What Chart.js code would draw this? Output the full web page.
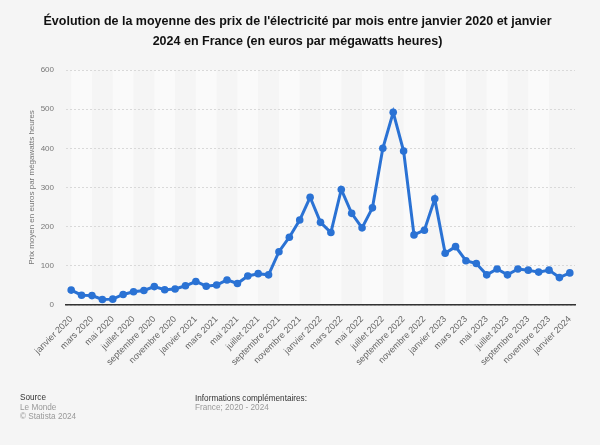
<!DOCTYPE html>
<html lang="fr">
<head>
<meta charset="utf-8">
<script src="https://cdn.jsdelivr.net/npm/chart.js@4/dist/chart.umd.min.js"></script>
<style>
  html, body { margin: 0; padding: 0; background: #f5f5f5; }
  #wrap { position: relative; width: 600px; height: 445px; overflow: hidden; }
  canvas { position: absolute; left: 0; top: 0; }
  .ft { position: absolute; font-family: 'Liberation Sans', Arial, sans-serif; font-size: 8.2px; line-height: 10px; white-space: nowrap; }
  .h { color: #333; }
  .g { color: #999; }
</style>
</head>
<body>
<div id="wrap">
  <canvas id="c" width="600" height="445"></canvas>
  <div class="ft h" style="left:20px; top:393px;">Source</div>
  <div class="ft g" style="left:20px; top:403px;">Le Monde</div>
  <div class="ft g" style="left:20px; top:412px;">© Statista 2024</div>
  <div class="ft h" style="left:195px; top:394px;">Informations complémentaires:</div>
  <div class="ft g" style="left:195px; top:403px;">France; 2020 - 2024</div>
</div>
<script>
const titleLines = [
  "Évolution de la moyenne des prix de l'électricité par mois entre janvier 2020 et janvier",
  "2024 en France (en euros par mégawatts heures)"
];
const yAxisTitle = "Prix moyen en euros par mégawatts heures";
const months = [
  "janvier 2020","février 2020","mars 2020","avril 2020","mai 2020","juin 2020",
  "juillet 2020","août 2020","septembre 2020","octobre 2020","novembre 2020","décembre 2020",
  "janvier 2021","février 2021","mars 2021","avril 2021","mai 2021","juin 2021",
  "juillet 2021","août 2021","septembre 2021","octobre 2021","novembre 2021","décembre 2021",
  "janvier 2022","février 2022","mars 2022","avril 2022","mai 2022","juin 2022",
  "juillet 2022","août 2022","septembre 2022","octobre 2022","novembre 2022","décembre 2022",
  "janvier 2023","février 2023","mars 2023","avril 2023","mai 2023","juin 2023",
  "juillet 2023","août 2023","septembre 2023","octobre 2023","novembre 2023","décembre 2023",
  "janvier 2024"
];
const prices = [
  38, 25, 24, 14, 15, 27, 34, 37, 47, 39, 41, 49,
  60, 48, 51, 64, 55, 74, 80, 77, 136, 173, 217, 275,
  211, 185, 295, 234, 197, 248, 400, 492, 393, 179, 191, 271,
  132, 149, 113, 106, 77, 92, 77, 92, 89, 84, 89, 70,
  82
];
const yTicks = [0, 100, 200, 300, 400, 500, 600];

const FONT = "'Liberation Sans', Arial, sans-serif";

const stripesBg = {
  id: 'stripesBg',
  beforeDraw(chart) {
    const { ctx, chartArea } = chart;
    const x = chart.scales.x;
    ctx.save();
    ctx.fillStyle = '#fafafa';
    for (let i = 0; i < months.length - 1; i += 4) {
      const x0 = x.getPixelForValue(i);
      const x1 = x.getPixelForValue(Math.min(i + 2, months.length - 1));
      ctx.fillRect(x0, chartArea.top, x1 - x0, chartArea.bottom - chartArea.top);
    }
    ctx.restore();
  }
};

new Chart(document.getElementById('c'), {
  type: 'line',
  data: {
    labels: months,
    datasets: [{
      data: prices,
      borderColor: '#2a72d4',
      backgroundColor: '#2a72d4',
      borderWidth: 3,
      pointRadius: 3.8,
      pointHoverRadius: 3.8,
      pointBackgroundColor: '#2a72d4',
      pointBorderWidth: 0,
      tension: 0,
      fill: false
    }]
  },
  options: {
    responsive: false,
    animation: false,
    devicePixelRatio: 1,
    layout: { padding: { left: 20, right: 25, top: 0, bottom: 70 } },
    plugins: {
      legend: { display: false },
      tooltip: { enabled: false },
      title: {
        display: true,
        text: titleLines,
        color: '#111',
        font: { family: FONT, size: 12.5, weight: 'bold', lineHeight: 1.6 },
        padding: { top: 12, bottom: 18 }
      }
    },
    scales: {
      x: {
        type: 'category',
        offset: true,
        grid: { display: false, drawTicks: false },
        border: { display: true, color: '#333', width: 1.5 },
        ticks: {
          autoSkip: false,
          maxRotation: 45,
          minRotation: 45,
          padding: 9,
          color: '#666',
          font: { family: FONT, size: 9 },
          callback: function (v, i) { return i % 2 === 0 ? months[i] : null; }
        },
        afterFit(scale) { scale.height = 70; }
      },
      y: {
        min: 0,
        max: 600,
        afterBuildTicks(scale) { scale.ticks = yTicks.map(v => ({ value: v })); },
        grid: { color: '#d9d9d9', lineWidth: 1, drawTicks: false },
        border: { display: false, dash: [2, 2] },
        ticks: {
          padding: 12,
          color: '#777',
          font: { family: FONT, size: 8 }
        },
        title: {
          display: true,
          text: yAxisTitle,
          color: '#777',
          font: { family: FONT, size: 8 },
          padding: { top: 7, bottom: 0 }
        },
        afterFit(scale) { scale.width = 46; }
      }
    }
  },
  plugins: [stripesBg]
});
</script>
</body>
</html>
